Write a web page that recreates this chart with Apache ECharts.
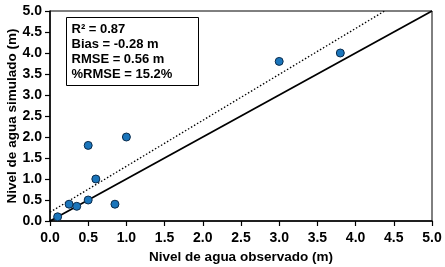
<!DOCTYPE html>
<html>
<head>
<meta charset="utf-8">
<script src="https://cdn.jsdelivr.net/npm/echarts@6/dist/echarts.min.js"></script>
<style>
  html, body { margin: 0; padding: 0; background: #fff; }
  #chart { width: 445px; height: 267px; }
</style>
</head>
<body>
<div id="chart"></div>
<script>
// observado vs simulado
var observado = [0.1, 0.25, 0.35, 0.5, 0.5, 0.6, 0.85, 1.0, 3.0, 3.8];
var simulado  = [0.1, 0.4, 0.35, 0.5, 1.8, 1.0, 0.4, 2.0, 3.8, 4.0];
var lineaUno = [[0, 0], [5, 5]];          // linea 1:1
var lineaAjuste = [[0, 0.21], [4.38, 5]]; // linea de tendencia
var stats = ['R² = 0.87', 'Bias = -0.28 m', 'RMSE = 0.56 m', '%RMSE = 15.2%'];

var puntos = observado.map(function (x, i) { return [x, simulado[i]] })

var chart = echarts.init(document.getElementById('chart'))
var fontFam = 'Liberation Sans, Arial, sans-serif'

var axisCommon = {
  type: 'value',
  min: 0,
  max: 5,
  interval: 0.5,
  axisLine: { show: true, lineStyle: { color: '#000', width: 1.5 } },
  axisTick: { show: true, inside: false, length: 5, lineStyle: { color: '#000', width: 1.2 } },
  axisLabel: {
    color: '#000', fontWeight: 'bold', fontSize: 14, fontFamily: fontFam,
    formatter: function (v) { return v.toFixed(1) }
  },
  splitLine: { show: false },
  nameLocation: 'middle',
  nameMoveOverlap: false,
  nameTextStyle: { color: '#000', fontWeight: 'bold', fontSize: 13.5, fontFamily: fontFam }
}

var option = {
  animation: false,
  grid: {
    left: 50, right: 13, top: 11, bottom: 46,
    show: true, borderColor: '#000', borderWidth: 1,
    containLabel: false, outerBoundsMode: 'none'
  },
  xAxis: Object.assign({}, axisCommon, {
    name: 'Nivel de agua observado (m)',
    nameGap: 29,
    axisLabel: Object.assign({}, axisCommon.axisLabel, { margin: 10 })
  }),
  yAxis: Object.assign({}, axisCommon, {
    name: 'Nivel de agua simulado (m)',
    nameGap: 31,
    axisLabel: Object.assign({}, axisCommon.axisLabel, { margin: 8 })
  }),
  graphic: [{
    type: 'group',
    left: 66, top: 17,
    children: [{
      type: 'rect',
      shape: { x: 0, y: 0, width: 132, height: 68 },
      style: { fill: '#fff', stroke: '#000', lineWidth: 1 }
    }, {
      type: 'text',
      left: 5, top: 4,
      style: {
        text: stats.join('\n'),
        fill: '#000', font: 'bold 13px ' + fontFam, lineHeight: 15
      }
    }]
  }],
  series: [{
    type: 'line',
    data: lineaUno,
    symbol: 'none',
    lineStyle: { color: '#000', width: 1.8 },
    z: 2
  }, {
    type: 'line',
    data: lineaAjuste,
    symbol: 'none',
    lineStyle: { color: '#000', width: 1.3, type: [1.5, 2] },
    z: 2
  }, {
    type: 'scatter',
    data: puntos,
    symbolSize: 8,
    itemStyle: { color: '#1a75bb', borderColor: '#0a2a4a', borderWidth: 1, opacity: 1 },
    z: 3
  }]
}

chart.setOption(option)
</script>
</body>
</html>
